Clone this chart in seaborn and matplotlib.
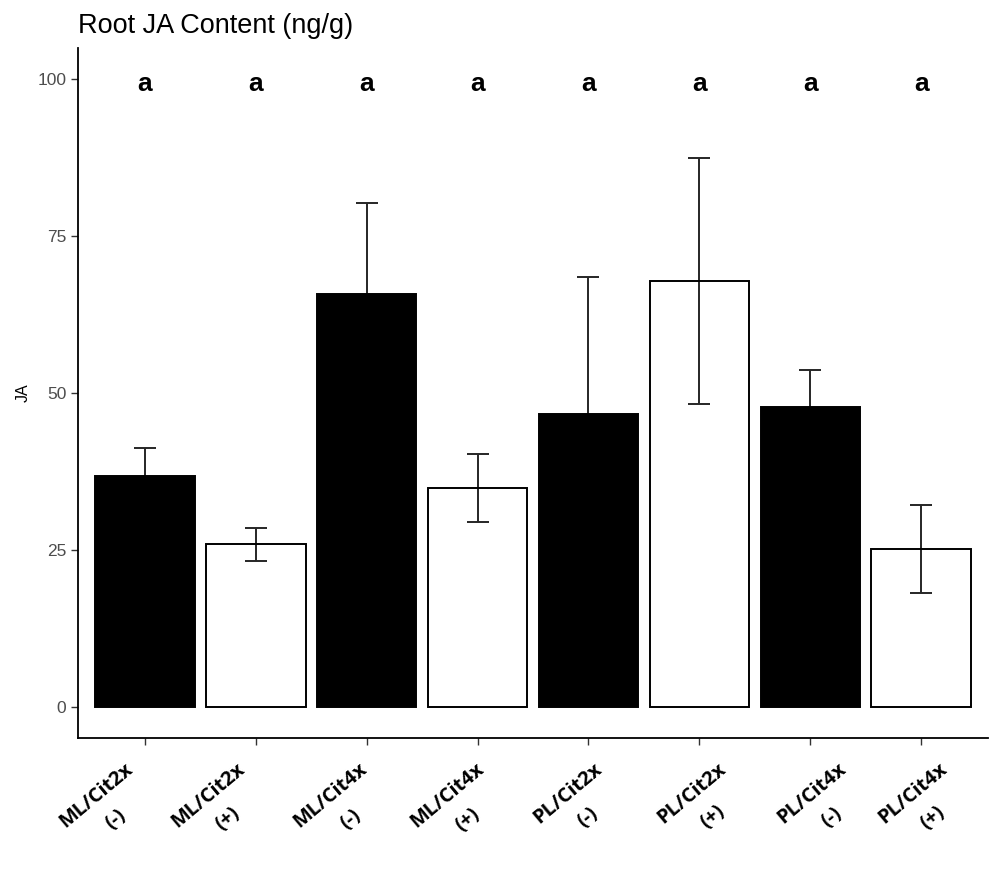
import matplotlib
matplotlib.use("Agg")
import matplotlib.pyplot as plt
import seaborn as sns
import pandas as pd
import numpy as np
from matplotlib.transforms import ScaledTranslation

# ---- data ----
categories = ["ML/Cit2x\n(-)", "ML/Cit2x\n(+)", "ML/Cit4x\n(-)", "ML/Cit4x\n(+)",
              "PL/Cit2x\n(-)", "PL/Cit2x\n(+)", "PL/Cit4x\n(-)", "PL/Cit4x\n(+)"]
treatment = ["-", "+", "-", "+", "-", "+", "-", "+"]
ja_mean = [36.7, 25.9, 65.8, 34.9, 46.6, 67.9, 47.7, 25.1]
ja_se = [4.6, 2.65, 14.5, 5.4, 21.9, 19.6, 5.9, 7.0]
letters = ["a", "a", "a", "a", "a", "a", "a", "a"]
y_ticks = [0, 25, 50, 75, 100]

df = pd.DataFrame({"group": categories, "JA": ja_mean, "trt": treatment})

sns.set_theme(style="white")
plt.rcParams["font.family"] = ["Liberation Sans", "DejaVu Sans"]

fig = plt.figure(figsize=(9.91, 8.71), dpi=100)
ax = fig.add_axes([0.0787, 0.1527, 0.9183, 0.7923])

sns.barplot(data=df, x="group", y="JA", hue="trt", palette={"-": "black", "+": "white"},
            dodge=False, width=0.9, edgecolor="black", linewidth=1.4,
            errorbar=None, legend=False, ax=ax, order=categories)

# hollow "+" bars, bars above error bars (black bars hide lower whisker)
for p in ax.patches:
    fc = p.get_facecolor()
    if fc[0] > 0.5:
        p.set_facecolor((1, 1, 1, 0))
    p.set_zorder(3)

xpos = np.arange(len(categories))
ax.errorbar(xpos, ja_mean, yerr=ja_se, fmt="none", ecolor="#262626",
            elinewidth=1.4, capsize=8, capthick=1.4, zorder=2)

for xi, lab in zip(xpos, letters):
    ax.text(xi, 99.2, lab, ha="center", va="center", fontsize=19,
            fontweight="bold", color="black")

ax.set_ylim(-5, 105)
ax.set_xlim(-0.6, len(categories) - 0.4)
ax.set_yticks(y_ticks)
ax.set_yticklabels([str(t) for t in y_ticks], fontsize=12.5, color="#4D4D4D")
ax.set_xticks(xpos)
ax.set_xticklabels([""] * len(categories))

# rotated two-line category labels (hand-placed in the original, slightly spread out)
label_shift_px = [-12, -11, 1, 7, 14, 27, 36, 26]
for xi, lab, sh in zip(xpos, categories, label_shift_px):
    tr = ax.get_xaxis_transform() + ScaledTranslation((sh - 9) / 100, -0.21,
                                                      fig.dpi_scale_trans)
    ax.text(xi, 0, lab, transform=tr, rotation=40, ha="right", va="top",
            rotation_mode="anchor", fontsize=14.5, fontweight="bold",
            family=["Open Sans", "DejaVu Sans"], multialignment="center",
            linespacing=1.75, color="black", clip_on=False)

ax.set_xlabel("")
ax.set_ylabel("JA", fontsize=11.5, color="black")
ax.yaxis.set_label_coords(-0.052, 0.5)

for s in ["top", "right"]:
    ax.spines[s].set_visible(False)
for s in ["left", "bottom"]:
    ax.spines[s].set_color("black")
    ax.spines[s].set_linewidth(1.3)
ax.tick_params(axis="both", which="both", length=5, width=1.0, color="#333333",
               left=True, bottom=True)

fig.text(0.0787, 1 - 33 / 871, "Root JA Content (ng/g)", fontsize=19.5, color="black",
         ha="left", va="baseline")

fig.savefig("out.png", dpi=100, facecolor="white")
